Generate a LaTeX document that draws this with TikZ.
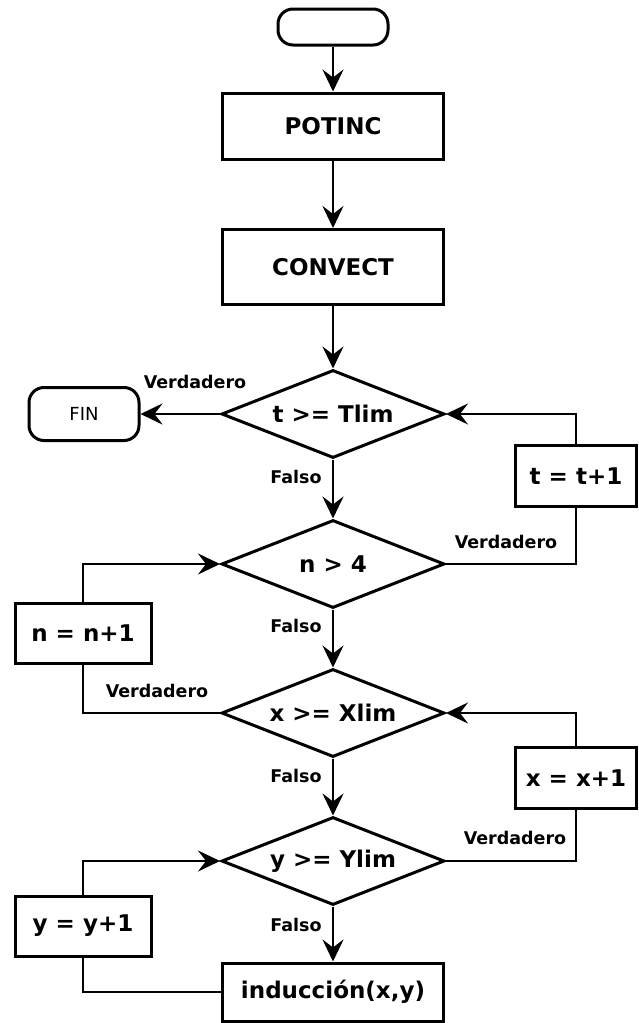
\documentclass[tikz,border=0pt]{standalone}
\usepackage{fontspec}
\setmainfont{DejaVu Sans}
\usepackage{tikz}
\usetikzlibrary{arrows.meta, positioning, shapes.geometric}

\tikzset{
    box/.style={draw, line width=3pt, minimum width=221pt, minimum height=66pt, inner sep=0pt,
        font=\fontsize{23}{26}\selectfont\bfseries},
    smallbox/.style={box, minimum width=136pt, minimum height=60pt},
    decision/.style={draw, diamond, aspect=2.53, line width=3pt, minimum width=223pt,
        minimum height=88pt, inner sep=0pt, font=\fontsize{23}{26}\selectfont\bfseries},
    term/.style={draw, line width=3pt, rounded corners=15pt, minimum width=110pt,
        minimum height=36pt, inner sep=0pt, font=\fontsize{18}{20}\selectfont},
    lbl/.style={font=\fontsize{17.5}{20}\selectfont\bfseries, inner sep=0pt},
    arr/.style={-{Stealth[length=22pt, width=21pt, inset=8pt]}, line width=2.8pt},
    line/.style={line width=2.8pt}
}

\begin{document}
\begin{tikzpicture}[x=1pt, y=-1pt]
            \useasboundingbox (0,0) rectangle (639,1023);

            \node[term] (start) at (333, 27) {};
            \node[box] (potinc) at (333, 126) {POTINC};
            \node[box, minimum height=75pt] (convect) at (333, 267) {CONVECT};
            \node[decision] (tlim) at (333, 414) {t >= Tlim};
            \node[term, minimum height=53pt] (fin) at (84, 414) {FIN};
            \node[smallbox, minimum width=121pt, minimum height=61pt] (tinc) at (576, 476) {t = t+1};
            \node[decision] (nmax) at (333, 564) {n > 4};
            \node[smallbox] (ninc) at (83, 633) {n = n+1};
            \node[decision] (xlim) at (333, 713) {x >= Xlim};
            \node[smallbox, minimum width=121pt, minimum height=61pt] (xinc) at (576, 778) {x = x+1};
            \node[decision] (ylim) at (333, 861) {y >= Ylim};
            \node[smallbox] (yinc) at (83, 926) {y = y+1};
            \node[box, minimum height=58pt] (induc) at (333, 992) {inducción(x,y)};

            \node[lbl] (vtlim) at (195, 382) {Verdadero};
            \node[lbl] (ftlim) at (296, 477) {Falso};
            \node[lbl] (vnmax) at (506, 542) {Verdadero};
            \node[lbl] (fnmax) at (296, 626) {Falso};
            \node[lbl] (vxlim) at (157, 691) {Verdadero};
            \node[lbl] (fxlim) at (296, 776) {Falso};
            \node[lbl] (vylim) at (515, 838) {Verdadero};
            \node[lbl] (fylim) at (296, 925) {Falso};

            \draw[arr] (start) -- (potinc);
            \draw[arr] (potinc) -- (convect);
            \draw[arr] (convect) -- (tlim);
            \draw[arr] (tlim.west) -- (fin.east);
            \draw[arr] (tlim) -- (nmax);
            \draw[arr] (nmax) -- (xlim);
            \draw[arr] (xlim) -- (ylim);
            \draw[arr] (ylim) -- (induc);

            \draw[line] (nmax.east) -| (tinc.south);
            \draw[arr] (tinc.north) |- (tlim.east);
            \draw[line] (xlim.west) -| (ninc.south);
            \draw[arr] (ninc.north) |- (nmax.west);
            \draw[line] (ylim.east) -| (xinc.south);
            \draw[arr] (xinc.north) |- (xlim.east);
            \draw[line] (induc.west) -| (yinc.south);
            \draw[arr] (yinc.north) |- (ylim.west);
        \end{tikzpicture}
\end{document}
